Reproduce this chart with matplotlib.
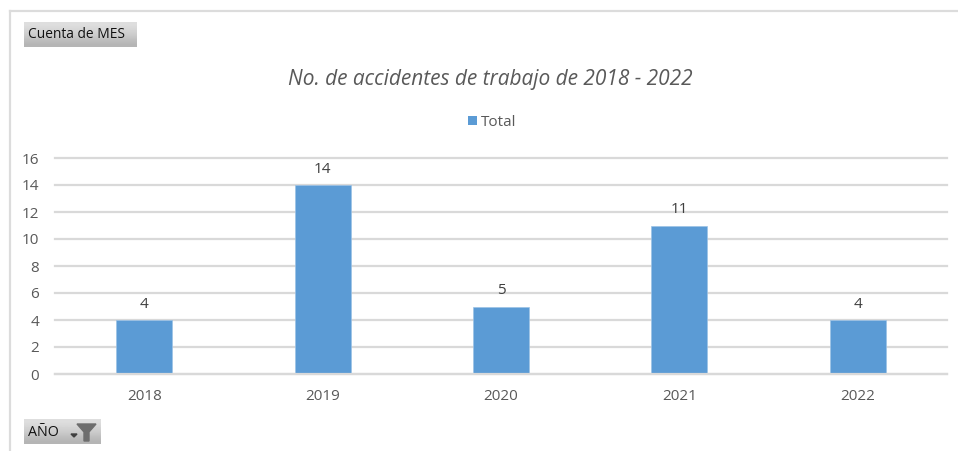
# accidentes de trabajo, pivot chart style
import matplotlib
matplotlib.use("Agg")
import matplotlib.pyplot as plt
from matplotlib.patches import Rectangle, Polygon

years = ["2018", "2019", "2020", "2021", "2022"]
totals = [4, 14, 5, 11, 4]
y_ticks = [0, 2, 4, 6, 8, 10, 12, 14, 16]

W, H = 958, 451
plt.rcParams['font.family'] = ['Open Sans', 'DejaVu Sans']

fig = plt.figure(figsize=(W / 100, H / 100), dpi=100, facecolor="white")

# axes box in pixels: x 55-947, y 158-374
ax = fig.add_axes([55 / W, 1 - 374 / H, (947 - 55) / W, (374 - 158) / H])
ax.set_xlim(-0.5, 4.5)
ax.set_ylim(0, 16)
ax.set_axisbelow(True)
ax.grid(axis="y", color="#d9d9d9", linewidth=1.6, clip_on=False)
ax.bar(range(5), totals, width=0.315, color="#5b9bd5", edgecolor="#9cc3e6", linewidth=0.5)

for s in ["top", "right", "left"]:
    ax.spines[s].set_visible(False)
ax.spines["bottom"].set_color("#d9d9d9")
ax.spines["bottom"].set_linewidth(1.6)
ax.set_xticks(range(5))
ax.set_xticklabels(years)
ax.set_yticks(y_ticks)
ax.tick_params(axis="both", length=0, labelsize=11, labelcolor="#595959")
ax.tick_params(axis="x", pad=11)
ax.tick_params(axis="y", pad=11.5)
for g in ax.get_ygridlines():
    g.set_clip_on(False)

for i, v in enumerate(totals):
    ax.annotate(str(v), (i, v), xytext=(0, 6), textcoords="offset points",
                ha="center", va="bottom", fontsize=11, color="#404040")

# overlay in pixel coordinates for frame, title, legend and buttons
ov = fig.add_axes([0, 0, 1, 1], facecolor="none")
ov.set_xlim(0, W)
ov.set_ylim(H, 0)
ov.axis("off")

ov.plot([10, 958], [11, 11], color="#dcdcdc", linewidth=1.6)
ov.plot([10, 10], [11, 451], color="#dcdcdc", linewidth=1.6)

ov.text(490, 80, "No. de accidentes de trabajo de 2018 - 2022", ha="center", va="center",
        fontsize=15, style="italic", color="#595959")

ov.add_patch(Rectangle((468, 116), 9, 9, color="#5b9bd5", linewidth=0))
ov.text(481, 122, "Total", ha="left", va="center", fontsize=11, color="#595959")

# pivot field buttons
gradient = [[0.87], [0.84], [0.80], [0.75], [0.71]]
for x0, y0, x1, y1 in [(24, 22, 137, 47), (24, 419, 101, 444)]:
    ov.imshow(gradient, cmap="gray", vmin=0, vmax=1, extent=(x0, x1, y1, y0), aspect="auto",
              interpolation="bilinear", zorder=2)
ov.set_xlim(0, W)
ov.set_ylim(H, 0)

ov.text(28, 35, "Cuenta de MES", ha="left", va="center", fontsize=9.9, color="#111111", zorder=3)
ov.text(28, 432, "AÑO", ha="left", va="center", fontsize=10.3, color="#111111", zorder=3)
ov.add_patch(Polygon([(71, 434), (77, 434), (74, 437)], color="#404040", zorder=3))
ov.add_patch(Polygon([(77, 424), (96, 424), (89, 432), (89, 441), (84, 441), (84, 432)],
                     color="#6e6e6e", zorder=3))

fig.savefig("out.png", dpi=100)
